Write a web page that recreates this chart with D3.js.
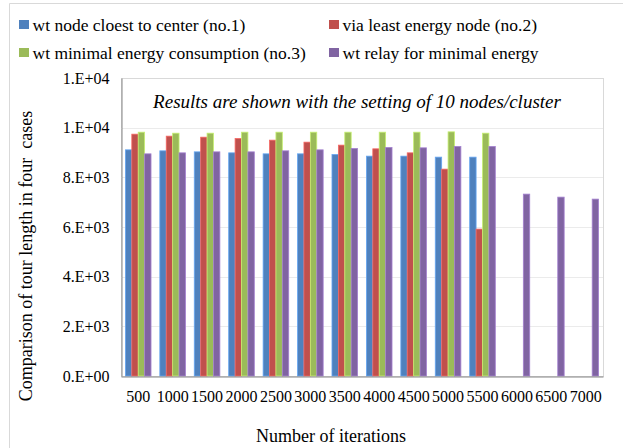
<!DOCTYPE html>
<html><head><meta charset="utf-8">
<script src="https://cdn.jsdelivr.net/npm/d3@7"></script>
<style>
html,body{margin:0;padding:0;background:#fff;}
text{font-family:"Liberation Serif","Times New Roman",serif;}
</style></head>
<body><svg id="c" width="623" height="448"></svg>
<script>
const categories = ["500","1000","1500","2000","2500","3000","3500","4000","4500","5000","5500","6000","6500","7000"];
const seriesNames = ["wt node cloest to center (no.1)","via least energy node (no.2)","wt minimal energy consumption (no.3)","wt relay for minimal energy"];
const seriesColors = ["#4F81BD","#C0504D","#9BBB59","#8064A2"];
const s1 = [9107,9067,9026,8986,8946,8946,8919,8853,8853,8813,8813,null,null,null];
const s2 = [9738,9658,9617,9564,9497,9416,9296,9148,8986,8330,5915,null,null,null];
const s3 = [9818,9778,9778,9818,9818,9818,9818,9818,9818,9832,9778,null,null,null];
const s4 = [8946,8986,9026,9026,9067,9107,9162,9202,9188,9243,9243,7324,7203,7123];
const yTicks = [0,2000,4000,6000,8000,10000,12000];
const yTickLabels = ["0.E+00","2.E+03","4.E+03","6.E+03","8.E+03","1.E+04","1.E+04"];
const series = [s1,s2,s3,s4];

const svg = d3.select("#c");
const L = 121, R = 603, T = 78, B = 376;

// outer chart border
svg.append("path").attr("d","M9.5,448 L9.5,3.5 L623,3.5").attr("fill","none").attr("stroke","#D9D9D9");

const x = d3.scaleBand().domain(categories).range([L,R]).paddingInner(0.256).paddingOuter(0.128);
const xs = d3.scaleBand().domain(d3.range(4)).range([0,x.bandwidth()]).padding(0);
const y = d3.scaleLinear().domain([0,12000]).range([B,T]);

// plot border
svg.append("rect").attr("x",L+0.5).attr("y",T+0.5).attr("width",R-L).attr("height",B-T)
  .attr("fill","none").attr("stroke","#D9D9D9");

// gridlines
svg.append("g").selectAll("line").data(yTicks.slice(1,-1)).join("line")
  .attr("x1",L).attr("x2",R).attr("y1",d=>Math.round(y(d))+0.5).attr("y2",d=>Math.round(y(d))+0.5)
  .attr("stroke","#EBEBEB");

// bars
const data = [];
series.forEach((s,si)=>s.forEach((v,ci)=>{ if(v!=null) data.push({c:categories[ci],si,v}); }));
svg.append("g").selectAll("rect").data(data).join("rect")
  .attr("x",d=>x(d.c)+xs(d.si)).attr("width",xs.bandwidth())
  .attr("y",d=>y(d.v)).attr("height",d=>y(0)-y(d.v))
  .attr("fill",d=>seriesColors[d.si])
  .attr("stroke",d=>d3.color(seriesColors[d.si]).brighter(0.7)).attr("stroke-width",0.8);

// axes
const yAxis = d3.axisLeft(y).tickValues(yTicks).tickFormat((d,i)=>yTickLabels[i]).tickSize(0).tickPadding(12);
const gy = svg.append("g").attr("transform",`translate(${L+0.5},0)`).call(yAxis);
gy.select(".domain").attr("stroke","#868686");
gy.selectAll("text").attr("font-size",16).attr("fill","#000");

const xAxis = d3.axisBottom(x).tickSize(0).tickPadding(14);
const gx = svg.append("g").attr("transform",`translate(0,${B+0.5})`).call(xAxis);
gx.select(".domain").attr("stroke","#868686");
gx.selectAll("text").attr("font-size",16).attr("fill","#000");

// axis titles
svg.append("text").attr("transform","translate(26,256) rotate(-90)").attr("text-anchor","middle")
  .attr("dominant-baseline","central").attr("font-size",18).style("white-space","pre")
  .text("Comparison of tour length in four  cases");
svg.append("text").attr("x",331).attr("y",436).attr("text-anchor","middle")
  .attr("dominant-baseline","central").attr("font-size",18).text("Number of iterations");

// annotation
svg.append("text").attr("x",357).attr("y",101).attr("text-anchor","middle")
  .attr("dominant-baseline","central").attr("font-size",19).attr("font-style","italic")
  .text("Results are shown with the setting of 10 nodes/cluster");

// legend
const legPos = [[19,25],[329,25],[19,53],[329,53]];
const lg = svg.append("g").selectAll("g").data(seriesNames).join("g")
  .attr("transform",(d,i)=>`translate(${legPos[i][0]},${legPos[i][1]})`);
lg.append("rect").attr("x",0).attr("y",-5).attr("width",10).attr("height",9).attr("fill",(d,i)=>seriesColors[i]);
lg.append("text").attr("x",13.5).attr("y",0).attr("dominant-baseline","central").attr("font-size",17.5).text(d=>d);
</script></body></html>
